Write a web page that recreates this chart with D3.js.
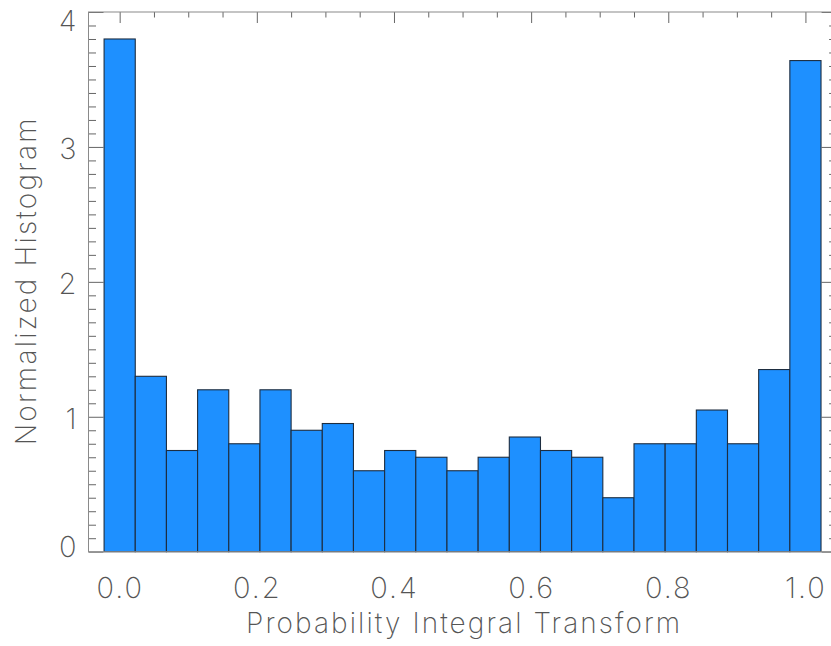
<!DOCTYPE html>
<html>
<head>
<meta charset="utf-8">
<script src="https://cdn.jsdelivr.net/npm/d3@7"></script>
<style>
  html, body { margin: 0; padding: 0; background: #ffffff; }
  svg { display: block; }
  text { font-family: Inter, "DejaVu Sans", sans-serif; font-weight: 200; fill: #555; }
</style>
</head>
<body>
<svg id="chart" width="831" height="646"></svg>
<script>
// Histogram of PIT values: 23 bins of width 1/22, centred on 0, 1/22, ..., 1
const binCenters = d3.range(23).map(i => i / 22);
const binWidth = 1 / 22;
const densities = [3.80, 1.30, 0.75, 1.20, 0.80, 1.20, 0.90, 0.95, 0.60, 0.75, 0.70, 0.60,
                   0.70, 0.85, 0.75, 0.70, 0.40, 0.80, 0.80, 1.05, 0.80, 1.35, 3.64];
const xTickValues = [0.0, 0.2, 0.4, 0.6, 0.8, 1.0];
const xTickLabels = ["0.0", "0.2", "0.4", "0.6", "0.8", "1.0"];
const yTickValues = [0, 1, 2, 3, 4];
const yTickLabels = ["0", "1", "2", "3", "4"];
const xTitle = "Probability Integral Transform";
const yTitle = "Normalized Histogram";

const svg = d3.select("#chart");
const plotLeft = 88.5, plotRight = 836.6, plotTop = 12, plotBottom = 551.7;

const x = d3.scaleLinear().domain([-binWidth, 1 + binWidth]).range([plotLeft, plotRight]);
const y = d3.scaleLinear().domain([0, 4]).range([plotBottom, plotTop]);

const xMinor = d3.range(-1, 22).map(i => i * 0.05).filter(v => v >= -binWidth && v <= 1 + binWidth && !xTickValues.some(t => Math.abs(t - v) < 1e-9));
const yMinor = d3.range(0, 41).map(i => i / 10).filter(v => Math.abs(v - Math.round(v)) > 1e-9);

const tickColor = "#666";
const majX = 11, minX = 5.5, majY = 15, minY = 7.5;

function styleAxis(g) {
  g.select(".domain").remove();
  g.selectAll(".tick line").attr("stroke", tickColor).attr("stroke-width", 1);
}

// Bottom axis: ticks point up into the plot, labels below
svg.append("g").attr("transform", `translate(0,${plotBottom})`)
  .call(d3.axisBottom(x).tickValues(xMinor).tickSizeInner(-minX).tickSizeOuter(0).tickFormat(""))
  .call(styleAxis);
const xAxisG = svg.append("g").attr("transform", `translate(0,${plotBottom})`)
  .call(d3.axisBottom(x).tickValues(xTickValues).tickSizeInner(-majX).tickSizeOuter(0)
        .tickPadding(0).tickFormat((d, i) => xTickLabels[i]))
  .call(styleAxis);
xAxisG.selectAll(".tick text")
  .attr("y", 46).attr("dy", null)
  .attr("font-size", 29).attr("font-family", null).attr("fill", null)
  .attr("letter-spacing", 2);

// Top axis: ticks point down
svg.append("g").attr("transform", `translate(0,${plotTop})`)
  .call(d3.axisTop(x).tickValues(xMinor).tickSizeInner(-minX).tickSizeOuter(0).tickFormat(""))
  .call(styleAxis);
svg.append("g").attr("transform", `translate(0,${plotTop})`)
  .call(d3.axisTop(x).tickValues(xTickValues).tickSizeInner(-majX).tickSizeOuter(0).tickFormat(""))
  .call(styleAxis);

// Left axis: ticks point right, labels to the left
svg.append("g").attr("transform", `translate(${plotLeft},0)`)
  .call(d3.axisLeft(y).tickValues(yMinor).tickSizeInner(-minY).tickSizeOuter(0).tickFormat(""))
  .call(styleAxis);
const yAxisG = svg.append("g").attr("transform", `translate(${plotLeft},0)`)
  .call(d3.axisLeft(y).tickValues(yTickValues).tickSizeInner(-majY).tickSizeOuter(0)
        .tickPadding(12).tickFormat((d, i) => yTickLabels[i]))
  .call(styleAxis);
yAxisG.selectAll(".tick text")
  .attr("font-size", 29).attr("font-family", null).attr("fill", null)
  .attr("dy", d => d === 4 ? "0.64em" : d === 0 ? "0.15em" : "0.4em");

// Right axis: ticks point left
svg.append("g").attr("transform", `translate(${plotRight},0)`)
  .call(d3.axisRight(y).tickValues(yMinor).tickSizeInner(-minY).tickSizeOuter(0).tickFormat(""))
  .call(styleAxis);
svg.append("g").attr("transform", `translate(${plotRight},0)`)
  .call(d3.axisRight(y).tickValues(yTickValues).tickSizeInner(-majY).tickSizeOuter(0).tickFormat(""))
  .call(styleAxis);

// Bars
svg.append("g")
  .selectAll("rect")
  .data(binCenters)
  .join("rect")
  .attr("x", d => x(d - binWidth / 2))
  .attr("y", (d, i) => y(densities[i]))
  .attr("width", d => x(d + binWidth / 2) - x(d - binWidth / 2))
  .attr("height", (d, i) => y(0) - y(densities[i]))
  .attr("fill", "#1e90ff")
  .attr("stroke", "#1d2d40")
  .attr("stroke-width", 1.1);

// Plot frame
svg.append("rect")
  .attr("x", plotLeft).attr("y", plotTop)
  .attr("width", plotRight - plotLeft).attr("height", plotBottom - plotTop)
  .attr("fill", "none").attr("stroke", "#8a8a8a").attr("stroke-width", 1);

// Axis titles
svg.append("text")
  .attr("x", (x(-binWidth / 2) + x(1 + binWidth / 2)) / 2 + 0.5).attr("y", 633)
  .attr("text-anchor", "middle")
  .attr("font-size", 28)
  .attr("textLength", 434).attr("lengthAdjust", "spacing")
  .text(xTitle);

svg.append("text")
  .attr("transform", `translate(36,${(plotTop + plotBottom) / 2}) rotate(-90)`)
  .attr("text-anchor", "middle")
  .attr("font-size", 28)
  .attr("textLength", 327).attr("lengthAdjust", "spacing")
  .text(yTitle);
</script>
</body>
</html>
